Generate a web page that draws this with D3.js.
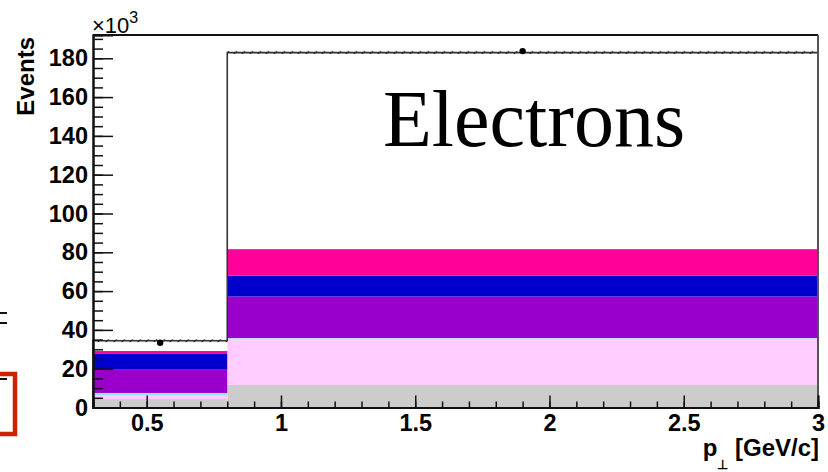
<!DOCTYPE html>
<html><head><meta charset="utf-8">
<script src="https://cdn.jsdelivr.net/npm/d3@7"></script>
<style>body{margin:0;background:#fff}svg{display:block}</style>
</head><body><svg id="c" width="828" height="472"></svg>
<script>
// ---- data ----
const binEdges = [0.3, 0.8, 3.0];
const binCenters = [0.55, 1.9];
const seriesNames = ["bg1", "bg2", "bg3", "bg4", "bg5", "bg6"];
const seriesColors = ["#cccccc", "#ffccff", "#88e8ff", "#9900cc", "#0000cc", "#ff0099"];
const grayVals = [4.4, 11.6];
const lightPinkVals = [2.0, 23.9];
const cyanVals = [1.1, 0.3];
const purpleVals = [12.3, 21.4];
const blueVals = [8.1, 10.8];
const magentaVals = [1.2, 13.6];
const totalMC = [34.4, 182.9];
const totalErr = [0.7, 0.7];
const dataVals = [33.4, 183.7];
const xTicks = [0.5, 1, 1.5, 2, 2.5, 3];
const xTickLabels = ["0.5", "1", "1.5", "2", "2.5", "3"];
const yTicks = [0, 20, 40, 60, 80, 100, 120, 140, 160, 180];
const yTickLabels = ["0", "20", "40", "60", "80", "100", "120", "140", "160", "180"];

const svg = d3.select("#c");
const L = 93, R = 818, T = 35, B = 407.5;
const x = d3.scaleLinear().domain([0.3, 3]).range([L, R]);
const y = d3.scaleLinear().domain([0, 192]).range([B, T]);

const allVals = [grayVals, lightPinkVals, cyanVals, purpleVals, blueVals, magentaVals];
const rows = binCenters.map((c, i) => {
  const o = {i};
  seriesNames.forEach((n, k) => o[n] = allVals[k][i]);
  return o;
});
const stacked = d3.stack().keys(seriesNames)(rows);

// stacked fills
stacked.forEach((layer, k) => {
  svg.append("g").selectAll("rect").data(layer).join("rect")
    .attr("x", d => x(binEdges[d.data.i]))
    .attr("width", d => x(binEdges[d.data.i + 1]) - x(binEdges[d.data.i]))
    .attr("y", d => y(d[1]))
    .attr("height", d => y(d[0]) - y(d[1]))
    .attr("fill", seriesColors[k]);
});

// hatch pattern for MC error band
const defs = svg.append("defs");
defs.append("pattern").attr("id", "hatch").attr("patternUnits", "userSpaceOnUse")
  .attr("width", 8).attr("height", 8)
  .append("path").attr("d", "M0,8 L8,0 M-2,2 L2,-2 M6,10 L10,6")
  .attr("stroke", "#000").attr("stroke-width", 1.2);

svg.append("g").selectAll("rect").data(totalMC).join("rect")
  .attr("x", (d, i) => x(binEdges[i]))
  .attr("width", (d, i) => x(binEdges[i + 1]) - x(binEdges[i]))
  .attr("y", (d, i) => y(d + totalErr[i]))
  .attr("height", (d, i) => y(d - totalErr[i]) - y(d + totalErr[i]))
  .attr("fill", "url(#hatch)");

// total MC outline (step)
const step = d3.line().curve(d3.curveStepAfter).x(d => x(d[0])).y(d => y(d[1]));
const stepPts = [[binEdges[0], 0]].concat(totalMC.map((v, i) => [binEdges[i], v]));
stepPts.push([binEdges[2], totalMC[1]]);
svg.append("path").attr("d", step(stepPts) + "V" + y(0))
  .attr("fill", "none").attr("stroke", "#333").attr("stroke-width", 1.6);

// frame
svg.append("line").attr("x1", L).attr("x2", R).attr("y1", T).attr("y2", T)
  .attr("stroke", "#111").attr("stroke-width", 2);
svg.append("line").attr("x1", R).attr("x2", R).attr("y1", T).attr("y2", B)
  .attr("stroke", "#555").attr("stroke-width", 2);

// y axis
const yMinor = d3.range(0, 192, 5);
const gyMin = svg.append("g").attr("transform", `translate(${L},0)`)
  .call(d3.axisLeft(y).tickValues(yMinor).tickSize(-10).tickFormat(""));
const gy = svg.append("g").attr("transform", `translate(${L},0)`)
  .call(d3.axisLeft(y).tickValues(yTicks).tickSize(-20).tickPadding(5)
    .tickFormat((d, i) => yTickLabels[i]));
// x axis
const xMinor = d3.range(3, 31).map(v => v / 10);
const gxMin = svg.append("g").attr("transform", `translate(0,${B})`)
  .call(d3.axisBottom(x).tickValues(xMinor).tickSize(-6).tickFormat(""));
const gx = svg.append("g").attr("transform", `translate(0,${B})`)
  .call(d3.axisBottom(x).tickValues(xTicks).tickSize(-12).tickPadding(7)
    .tickFormat((d, i) => xTickLabels[i]));
[gyMin, gy, gxMin, gx].forEach(g => {
  g.selectAll(".domain").attr("stroke", "#111").attr("stroke-width", 2);
  g.selectAll(".tick line").attr("stroke", "#111").attr("stroke-width", 1.5);
  g.selectAll("text").attr("font-family", "Liberation Sans, Arial, sans-serif")
    .attr("font-weight", "bold").attr("font-size", 23.5).attr("fill", "#000");
});

// data points
svg.append("g").selectAll("circle").data(dataVals).join("circle")
  .attr("cx", (d, i) => x(binCenters[i])).attr("cy", d => y(d))
  .attr("r", 3.2).attr("fill", "#000");

// texts
svg.append("text").attr("x", 383).attr("y", 146)
  .attr("font-family", "Liberation Serif, Times New Roman, serif").attr("font-size", 80)
  .attr("fill", "#000").text("Electrons");

svg.append("text").attr("transform", "translate(34,37) rotate(-90)")
  .attr("text-anchor", "end")
  .attr("font-family", "Liberation Sans, Arial, sans-serif").attr("font-weight", "bold")
  .attr("font-size", 24).text("Events");

const mult = svg.append("text").attr("x", 92).attr("y", 33)
  .attr("font-family", "Liberation Sans, Arial, sans-serif").attr("font-size", 22);
mult.append("tspan").text("×10");
mult.append("tspan").attr("dy", -10).attr("font-size", 16).text("3");

const xl = svg.append("text").attr("x", 819).attr("y", 456).attr("text-anchor", "end")
  .attr("font-family", "Liberation Sans, Arial, sans-serif").attr("font-weight", "bold")
  .attr("font-size", 24);
xl.append("tspan").text("p");
xl.append("tspan").attr("dy", 13).attr("font-size", 13).text("⊥");
xl.append("tspan").attr("dy", -13).text(" [GeV/c]");

// cropped legend remnants at left edge
const ed = svg.append("g");
[313, 323, 379].forEach(v => ed.append("line").attr("x1", 0).attr("x2", 7)
  .attr("y1", v).attr("y2", v).attr("stroke", "#111").attr("stroke-width", 2));
ed.append("path").attr("d", "M0,374 H15 V434 H0").attr("fill", "none")
  .attr("stroke", "#cc2200").attr("stroke-width", 4.5);
</script></body></html>
